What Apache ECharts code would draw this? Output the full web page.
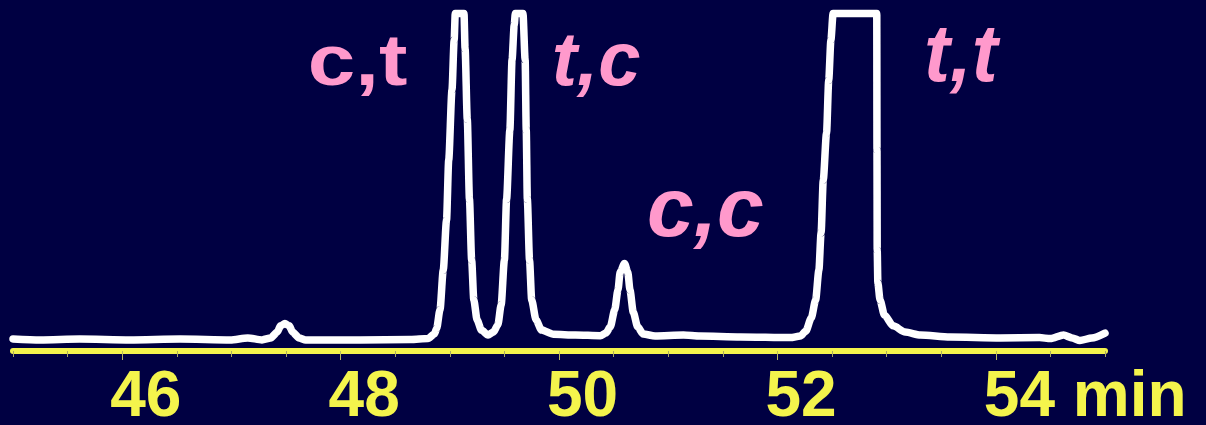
<!DOCTYPE html>
<html>
<head>
<meta charset="utf-8">
<script src="https://cdn.jsdelivr.net/npm/echarts@6/dist/echarts.min.js"></script>
<style>
html,body{margin:0;padding:0;background:#000042;}
#chart{width:1206px;height:425px;}
</style>
</head>
<body>
<div id="chart"></div>
<script>
// Retention time (min)
const times = [
  45.00, 45.25, 45.61, 46.07, 46.53, 46.99, 47.15, 47.28, 47.36, 47.42,
  47.45, 47.49, 47.53, 47.56, 47.62, 47.68, 48.18, 48.64, 48.80, 48.86,
  48.88, 48.91, 48.94, 48.97, 48.99, 49.02, 49.04, 49.05, 49.13, 49.14,
  49.16, 49.18, 49.20, 49.22, 49.25, 49.29, 49.35, 49.40, 49.44, 49.47,
  49.50, 49.52, 49.55, 49.57, 49.59, 49.60, 49.67, 49.69, 49.70, 49.71,
  49.73, 49.75, 49.79, 49.84, 49.95, 50.15, 50.38, 50.43, 50.47, 50.51,
  50.54, 50.56, 50.60, 50.63, 50.65, 50.68, 50.72, 50.77, 50.88, 51.14,
  51.29, 51.66, 52.12, 52.21, 52.26, 52.31, 52.35, 52.38, 52.40, 52.42,
  52.45, 52.47, 52.49, 52.51, 52.91, 52.912, 52.914, 52.92, 52.94, 52.98,
  53.06, 53.17, 53.31, 53.58, 54.04, 54.40, 54.50, 54.62, 54.70, 54.77,
  54.88, 55.00
];
// Detector signal (relative, clipped at 100)
const signal = [
  0.3, 0.0, 0.3, 0.0, 0.3, 0.0, 0.6, 0.0, 0.6, 2.4,
  4.3, 5.0, 4.3, 2.4, 0.6, 0.0, 0.0, 0.1, 0.4, 1.8,
  3.6, 9.2, 21.4, 36.7, 55.1, 76.6, 91.9, 100, 100, 89.2,
  67.6, 43.1, 24.5, 12.2, 6.1, 3.0, 1.5, 2.4, 4.6, 10.7,
  24.5, 43.1, 64.3, 85.8, 96.5, 100, 100, 85.8, 64.3, 43.1,
  24.5, 12.2, 6.1, 3.0, 1.7, 1.5, 1.3, 2.1, 4.0, 9.2,
  15.3, 20.8, 23.4, 20.8, 15.3, 8.5, 4.0, 1.8, 1.2, 1.5,
  1.2, 0.9, 0.7, 1.2, 2.7, 6.7, 12.2, 21.4, 32.8, 49.0,
  63.4, 79.6, 91.9, 100, 100, 58.2, 27.5, 17.4, 12.2, 7.6,
  4.3, 2.4, 1.5, 0.9, 0.6, 0.7, 0.4, 1.5, 0.6, -0.2,
  0.6, 2.1
];
// Axis tick labels
const majorTicks = [46, 48, 50, 52, 54];
const tickLabels = ['46', '48', '50', '52', '54 min'];
// Peak annotations
const peakNames = ['c,t', 't,c', 'c,c', 't,t'];
const peakLabelAt = [[48.155, 84.3], [50.34, 84.4], [51.34, 38.9], [53.68, 86.2]];

const YELLOW = '#f4f44c';
const PINK = '#ff99cc';

const chart = echarts.init(document.getElementById('chart'), null, {renderer: 'canvas'});
const labelMap = {};
majorTicks.forEach((t, i) => { labelMap[t] = tickLabels[i]; });

chart.setOption({
  backgroundColor: '#000042',
  animation: false,
  grid: {left: 13, right: 101, top: 13.5, bottom: 74, containLabel: false, outerBoundsMode: 'none'},
  xAxis: [
    {
      type: 'value', min: 45, max: 55, interval: 0.5, position: 'bottom',
      axisLine: {show: true, onZero: false, lineStyle: {color: YELLOW, width: 6}},
      axisTick: {show: true, length: 6, lineStyle: {color: '#a8a860', width: 1}},
      axisLabel: {show: false},
      splitLine: {show: false}
    },
    {
      type: 'value', min: 45, max: 55, position: 'bottom',
      axisLine: {show: false, onZero: false},
      axisTick: {show: true, length: 9, customValues: majorTicks, lineStyle: {color: '#b8b860', width: 1}},
      axisLabel: {show: false},
      splitLine: {show: false}
    },
    {
      type: 'value', min: 45.11, max: 55.11, position: 'bottom',
      axisLine: {show: false, onZero: false},
      axisTick: {show: false},
      splitLine: {show: false},
      axisLabel: {
        show: true, customValues: majorTicks, align: 'left', margin: 15,
        color: YELLOW, fontFamily: 'Liberation Sans', fontWeight: 'bold', fontSize: 64,
        formatter: v => labelMap[Math.round(v)] || ''
      }
    }
  ],
  yAxis: {
    type: 'value', min: -3.4, max: 100, show: false,
    axisLine: {show: false}, splitLine: {show: false}
  },
  series: [{
    type: 'line',
    xAxisIndex: 0,
    data: times.map((t, i) => [t, signal[i]]),
    showSymbol: false,
    smooth: 0.25,
    smoothMonotone: 'x',
    clip: false,
    lineStyle: {color: '#ffffff', width: 7.5, cap: 'round', join: 'round'}
  }]
});

const labelStyles = [
  {fontStyle: 'normal', fontSize: 73, scaleX: 1.17},
  {fontStyle: 'italic', fontSize: 76, scaleX: 1.0},
  {fontStyle: 'italic', fontSize: 84, scaleX: 1.0},
  {fontStyle: 'italic', fontSize: 82, scaleX: 0.95}
];
const graphics = peakNames.map((name, i) => {
  const p = chart.convertToPixel({xAxisIndex: 0, yAxisIndex: 0}, peakLabelAt[i]);
  const s = labelStyles[i];
  return {
    type: 'text', x: p[0], y: p[1], scaleX: s.scaleX, scaleY: 1,
    style: {
      text: name, x: 0, y: 0, align: 'center', verticalAlign: 'middle',
      fill: PINK, fontFamily: 'Liberation Sans', fontWeight: 'bold',
      fontStyle: s.fontStyle, fontSize: s.fontSize
    }
  };
});
chart.setOption({graphic: graphics});
</script>
</body>
</html>
